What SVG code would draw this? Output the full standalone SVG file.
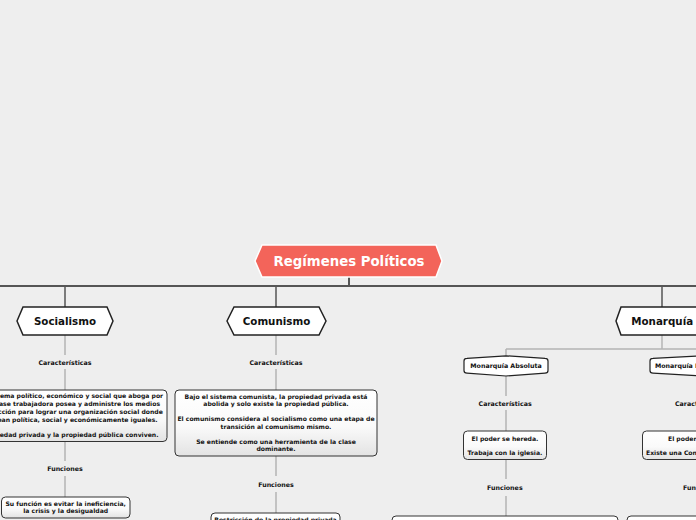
<svg xmlns="http://www.w3.org/2000/svg" width="696" height="520" viewBox="0 0 696 520">
<defs>
<linearGradient id="boxg" x1="0" y1="0" x2="0" y2="1">
<stop offset="0" stop-color="#ffffff"/>
<stop offset="0.55" stop-color="#fafafa"/>
<stop offset="1" stop-color="#e3e3e3"/>
</linearGradient>
</defs>
<style>
.bg{fill:#eeeeee}
.main{fill:none;stroke:#555555;stroke-width:2}
.sub{fill:none;stroke:#555555;stroke-width:1.5}
.lt{fill:none;stroke:#b4b4b4;stroke-width:1.5}
.br{fill:none;stroke:#999999;stroke-width:1}
.hex{fill:#ffffff;stroke:#222222;stroke-width:1.5}
.box{fill:url(#boxg);stroke:#333333;stroke-width:1}
.title{fill:#f3645a;stroke:#ffffff;stroke-width:1.5}
text{font-family:"DejaVu Sans","Verdana",sans-serif;font-weight:bold;fill:#111111}
.tt{font-size:13.3px;fill:#ffffff;text-anchor:middle}
.h1{font-size:10.3px;text-anchor:middle}
.lb{font-size:6.3px;text-anchor:middle}
.bx{font-size:6.1px;text-anchor:middle}
.st{text-anchor:start}
</style>
<rect class="bg" x="0" y="0" width="696" height="520"/>

<g id="connectors">
<path class="main" d="M0,286 H696 M349,277 V286"/>
<path class="sub" d="M65,286 V307 M276,286 V307 M662,286 V307"/>
<path class="lt" d="M65,335 V355 M65,369 V390 M65,441.5 V461 M65,476 V497"/>
<path class="lt" d="M276,335 V355 M276,369 V390 M276,456 V476 M276,492 V513"/>
<path class="br" d="M662,335 V349"/>
<path class="lt" d="M506,349 H696 M506,349 V356"/>
<path class="lt" d="M506,376 V396 M506,410 V431 M506,459.5 V479 M506,496 V516"/>
</g>

<g id="root">
<path class="title" d="M255,261 L262,245 L436,245 L442,261 L436,277 L262,277 Z"/>
<text class="tt" x="349" y="266">Regímenes Políticos</text>
</g>

<g id="socialismo">
<path class="hex" d="M17,321 L23,307 L107,307 L113,321 L107,335 L23,335 Z"/>
<text class="h1" x="65" y="324.8">Socialismo</text>
</g>
<g id="soc-caracteristicas"><text class="lb" x="65" y="364.5">Características</text></g>
<g id="soc-desc">
<rect class="box" x="-37" y="390" width="204" height="51.5" rx="4"/>
<text class="bx" x="65" y="398">Es un sistema político, económico y social que aboga por</text>
<text class="bx" x="65" y="406.3">que la clase trabajadora posea y administre los medios</text>
<text class="bx" x="65" y="414.3">de producción para lograr una organización social donde</text>
<text class="bx" x="65" y="422.2">todos sean política, social y económicamente iguales.</text>
<text class="bx" x="65" y="436.5">La propiedad privada y la propiedad pública conviven.</text>
</g>
<g id="soc-funciones"><text class="lb" x="65" y="471.3">Funciones</text></g>
<g id="soc-func-desc">
<rect class="box" x="1.5" y="497" width="128.5" height="21" rx="4"/>
<text class="bx" x="65.7" y="505.5">Su función es evitar la ineficiencia,</text>
<text class="bx" x="65.7" y="513.2">la crisis y la desigualdad</text>
</g>

<g id="comunismo">
<path class="hex" d="M227,321 L234,307 L319,307 L326,321 L319,335 L234,335 Z"/>
<text class="h1" x="276.5" y="324.8">Comunismo</text>
</g>
<g id="com-caracteristicas"><text class="lb" x="276" y="364.5">Características</text></g>
<g id="com-desc">
<rect class="box" x="175" y="390" width="202" height="66" rx="4"/>
<text class="bx" x="276" y="399">Bajo el sistema comunista, la propiedad privada está</text>
<text class="bx" x="276" y="406.4">abolida y solo existe la propiedad pública.</text>
<text class="bx" x="276" y="421">El comunismo considera al socialismo como una etapa de</text>
<text class="bx" x="276" y="428.7">transición al comunismo mismo.</text>
<text class="bx" x="276" y="443.8">Se entiende como una herramienta de la clase</text>
<text class="bx" x="276" y="451.2">dominante.</text>
</g>
<g id="com-funciones"><text class="lb" x="276" y="486.5">Funciones</text></g>
<g id="com-func-desc">
<rect class="box" x="211" y="513" width="129" height="24" rx="4"/>
<text class="bx" x="275.5" y="521.6">Restricción de la propiedad privada</text>
</g>

<g id="monarquia">
<path class="hex" d="M616,321 L621,307 L703,307 L708,321 L703,335 L621,335 Z"/>
<text class="h1" x="662.2" y="324.8">Monarquía</text>
</g>

<g id="monarquia-absoluta">
<path class="hex" style="stroke-width:1.2" d="M467,358.3 Q464,358.3 464,361 L464,370.5 Q464,373.2 467,373.2 L506,376 L545,373.2 Q548,373.2 548,370.5 L548,361 Q548,358.3 545,358.3 L506,355.8 Z"/>
<text class="lb" x="506" y="368.4">Monarquía Absoluta</text>
</g>
<g id="abs-caracteristicas"><text class="lb" x="505.2" y="405.5">Características</text></g>
<g id="abs-desc">
<rect class="box" x="463.5" y="431" width="83" height="28.5" rx="4"/>
<text class="bx" x="505" y="440.6">El poder se hereda.</text>
<text class="bx" x="505" y="455">Trabaja con la iglesia.</text>
</g>
<g id="abs-funciones"><text class="lb" x="504.8" y="490">Funciones</text></g>
<g id="abs-func-desc">
<rect class="box" x="392" y="516" width="226" height="30" rx="4"/>
</g>

<g id="monarquia-parlamentaria">
<path class="hex" style="stroke-width:1.2" d="M653,358.3 Q650,358.3 650,361 L650,370.5 Q650,373.2 653,373.2 L702,376 L751,373.2 Q754,373.2 754,370.5 L754,361 Q754,358.3 751,358.3 L702,355.8 Z"/>
<text class="lb st" x="655" y="368.4">Monarquía Parlamentaria</text>
</g>
<g id="par-caracteristicas"><text class="lb st" x="675" y="405.5">Características</text></g>
<g id="par-desc">
<rect class="box" x="642.5" y="431" width="120" height="28.5" rx="4"/>
<text class="bx st" x="668" y="440.6">El poder se hereda.</text>
<text class="bx st" x="646" y="455">Existe una Constitución.</text>
</g>
<g id="par-funciones"><text class="lb st" x="683" y="490">Funciones</text></g>
<g id="par-func-desc">
<rect class="box" x="627" y="516" width="150" height="30" rx="4"/>
</g>
</svg>
